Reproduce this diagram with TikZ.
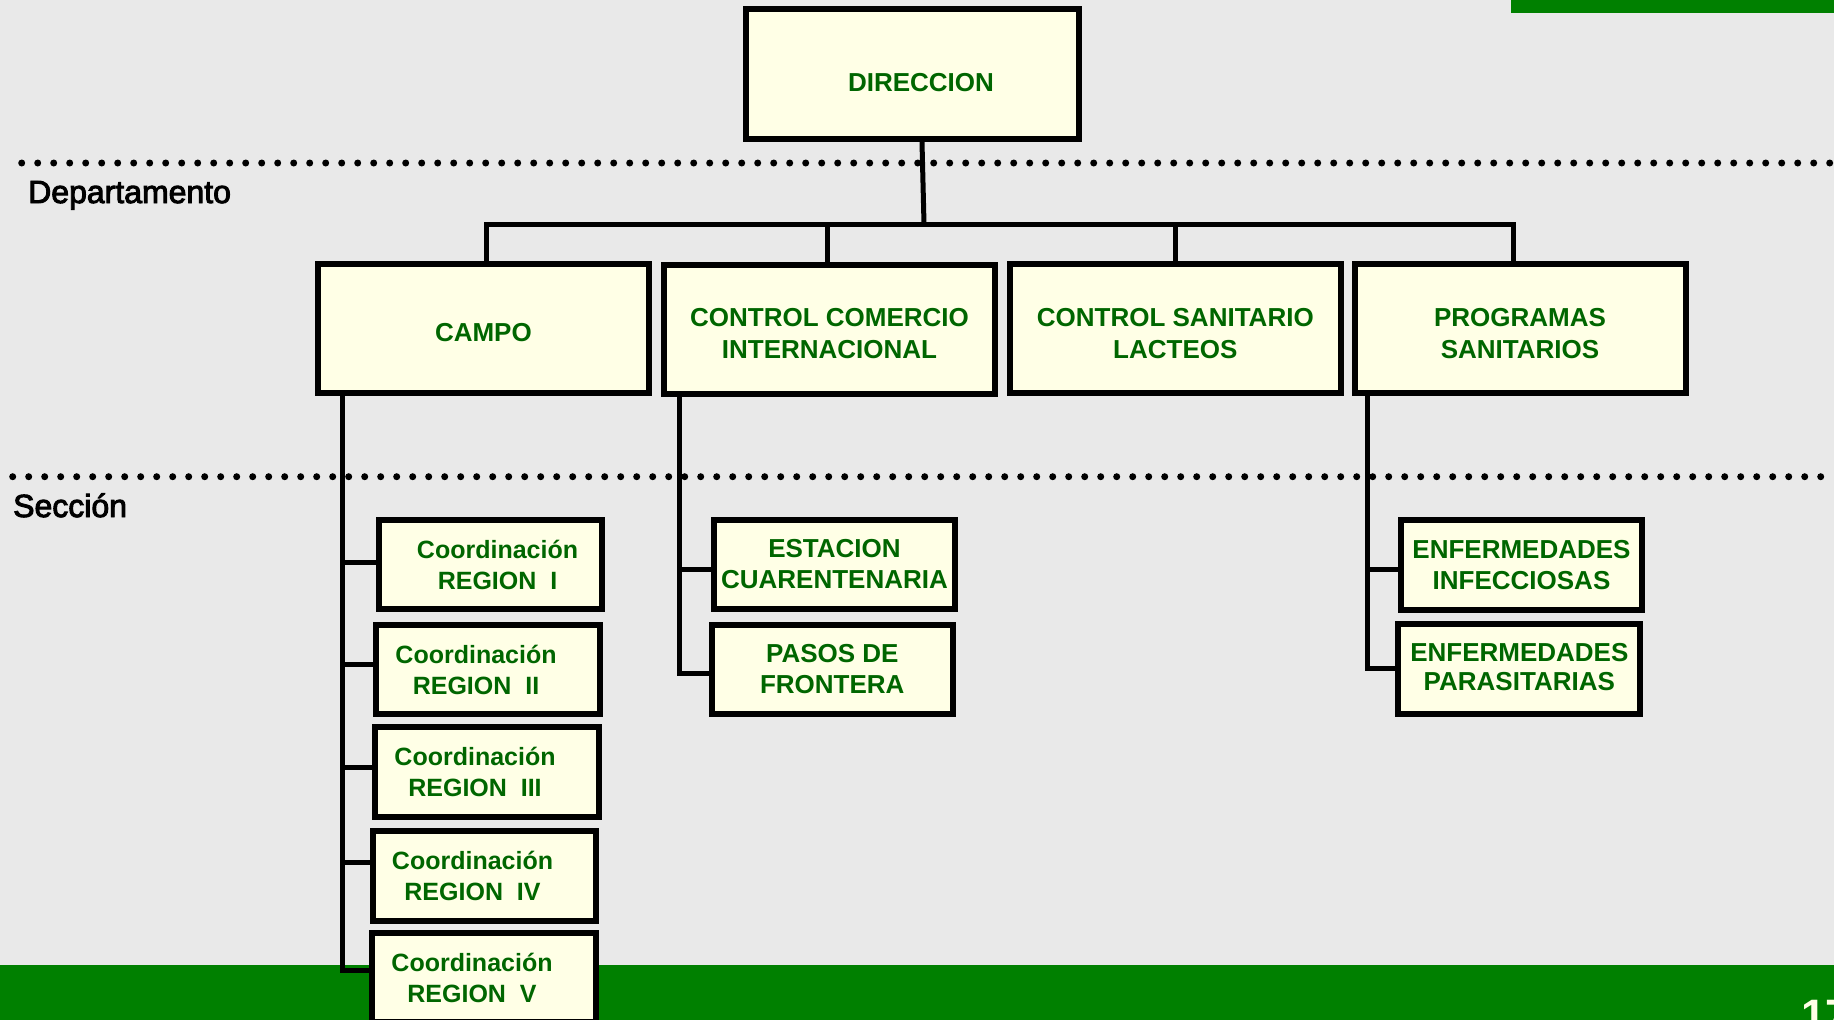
\documentclass[tikz,border=0pt]{standalone}
\usepackage{fontspec}
\setmainfont{Liberation Sans}
\newfontfamily\lvlfont[FakeBold=3]{Liberation Sans}
\definecolor{bg}{HTML}{E9E9E9}
\definecolor{boxfill}{HTML}{FFFFE6}
\definecolor{txtgreen}{HTML}{006600}
\definecolor{band}{HTML}{008000}
\definecolor{cream}{HTML}{FFFFE6}
\tikzset{
  box/.style={draw=black, line width=6pt, fill=boxfill, inner sep=0pt, align=center,
    text=txtgreen, font=\bfseries\fontsize{26}{31}\selectfont},
  topbox/.style={box, font=\bfseries\fontsize{26}{32}\selectfont, minimum width=331pt, minimum height=129pt},
  twoline/.style={text height=59pt, text depth=0pt},
  secbox/.style={box, minimum height=89pt},
  coordbox/.style={secbox, font=\bfseries\fontsize{25}{31}\selectfont},
  conn/.style={draw=black, line width=5pt},
  levellabel/.style={font=\lvlfont\fontsize{32}{38}\selectfont, text=black, anchor=base west, inner sep=0pt},
}
\begin{document}
\begin{tikzpicture}[x=1pt,y=-1pt]
\useasboundingbox (0,0) rectangle (1834,1020);
\clip (0,0) rectangle (1834,1020);
\fill[bg] (0,0) rectangle (1834,1020);
\fill[band] (1511,0) rectangle (1834,12.7);
\fill[band] (0,965) rectangle (1834,1020);
\node[font=\bfseries\fontsize{44}{50}\selectfont, text=cream, anchor=base west, inner sep=0pt] (pagenum) at (1801,1030.5) {17};

% dotted level separators
\foreach \i in {0,...,113} {
  \fill[black] (21.7+16*\i,163) circle[radius=3.5pt];
  \fill[black] (12.7+16*\i,476.7) circle[radius=3.5pt];
}
\node[levellabel] (dep) at (28,203) {Departamento};
\node[levellabel] (sec) at (13,517) {Sección};

% boxes
\node[box, minimum width=333pt, minimum height=130pt, text height=35pt, text depth=0pt] (dir) at (912.5,74) {\hspace*{17pt}DIRECCION};

\node[topbox, text height=27pt, text depth=0pt] (campo) at (483.4,328.3) {CAMPO};
\node[topbox, twoline] (cci) at (829.5,329) {CONTROL COMERCIO\\INTERNACIONAL};
\node[topbox, twoline] (csl) at (1175.3,328.5) {CONTROL SANITARIO\\LACTEOS};
\node[topbox, twoline] (ps) at (1520,328.5) {PROGRAMAS\\SANITARIOS};

\node[coordbox, minimum width=223pt] (r1) at (490.5,564.5) {\hspace*{14pt}Coordinación\\\hspace*{14pt}REGION~~I};
\node[coordbox, minimum width=224pt] (r2) at (488,669.5) {Coordinación\hspace*{24pt}\\REGION~~II\hspace*{24pt}};
\node[coordbox, minimum width=224pt, minimum height=90pt] (r3) at (487,772) {Coordinación\hspace*{24pt}\\REGION~~III\hspace*{24pt}};
\node[coordbox, minimum width=223pt, minimum height=90pt] (r4) at (484.5,876) {Coordinación\hspace*{24pt}\\REGION~~IV\hspace*{24pt}};
\node[coordbox, minimum width=224pt] (r5) at (484,977.5) {Coordinación\hspace*{24pt}\\REGION~~V\hspace*{24pt}};

\node[secbox, minimum width=241.6pt, minimum height=89.6pt] (est) at (834.5,564.5) {ESTACION\\CUARENTENARIA};
\node[secbox, minimum width=241.3pt] (pas) at (832.3,669.2) {PASOS DE\\FRONTERA};

\node[secbox, minimum width=241.6pt, minimum height=90pt] (ei) at (1521.5,564.7) {ENFERMEDADES\\INFECCIOSAS};
\node[secbox, minimum width=242pt, minimum height=89.7pt, font=\bfseries\fontsize{26}{29}\selectfont, text height=43pt, text depth=0pt] (ep) at (1519.3,668.8) {ENFERMEDADES\\PARASITARIAS};

% connectors: level 1 -> level 2
\coordinate (bar) at (0,224);
\coordinate (dtop) at ([xshift=9.5pt]dir.south);
\coordinate (dbot) at ([xshift=11.5pt]dir.south);
\draw[conn] (dtop) -- (dbot |- bar);
\coordinate (t1) at ([xshift=2.6pt]campo.north);
\coordinate (t2) at ([xshift=-2.5pt]cci.north);
\coordinate (t3) at (csl.north);
\coordinate (t4) at ([xshift=-7pt]ps.north);
\draw[conn] (t1) |- (t4 |- bar) -- (t4);
\draw[conn] (t2 |- bar) -- (t2);
\draw[conn] (t3 |- bar) -- (t3);

% CAMPO -> regions
\coordinate (cv) at ([xshift=27.8pt]campo.south west);
\coordinate (k1) at ([yshift=2.5pt]r1.west);
\coordinate (k2) at ([yshift=5.5pt]r2.west);
\coordinate (k3) at ([yshift=5pt]r3.west);
\coordinate (k4) at ([yshift=14pt]r4.west);
\coordinate (k5) at ([yshift=7.5pt]r5.west);
\draw[conn] (cv) |- (k5);
\foreach \k in {k1,k2,k3,k4} { \draw[conn] (cv |- \k) -- (\k); }

% CCI -> sections
\coordinate (ccv) at ([xshift=18.8pt]cci.south west);
\coordinate (m1) at ([yshift=-4.5pt]est.west);
\coordinate (m2) at ([yshift=-3.8pt]pas.west);
\draw[conn] (ccv) |- (m2);
\draw[conn] (ccv |- m1) -- (m1);

% PROGRAMAS -> sections
\coordinate (pv) at ([xshift=16pt]ps.south west);
\coordinate (n1) at ([yshift=-4.8pt]ei.west);
\coordinate (n2) at (ep.west);
\draw[conn] (pv) |- (n2);
\draw[conn] (pv |- n1) -- (n1);
\end{tikzpicture}
\end{document}
